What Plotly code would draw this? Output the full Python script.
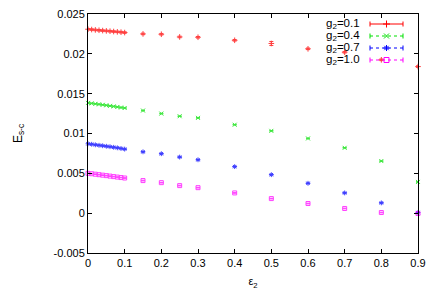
import plotly.graph_objects as go

eps = [0.0, 0.01, 0.02, 0.03, 0.04, 0.05, 0.06, 0.07, 0.08, 0.09, 0.1,
       0.15, 0.2, 0.25, 0.3, 0.4, 0.5, 0.6, 0.7, 0.8, 0.9]

e_g01 = [0.02309, 0.02305, 0.02300, 0.02296, 0.02292, 0.02288, 0.02284, 0.02280, 0.02276, 0.02272, 0.02267,
         0.02250, 0.02246, 0.02212, 0.02208, 0.02170, 0.02130, 0.02063, 0.02020, 0.01925, 0.01840]
err_g01 = [0.0001]*11 + [0.0001, 0.0001, 0.0001, 0.0001, 0.0001, 0.00025, 0.0001, 0.0001, 0.0001, 0.0001]

e_g04 = [0.01384, 0.01378, 0.01372, 0.01366, 0.01360, 0.01354, 0.01347, 0.01340, 0.01333, 0.01326, 0.01320,
         0.01288, 0.01250, 0.01217, 0.01196, 0.01110, 0.01033, 0.00938, 0.00820, 0.00654, 0.00392]
err_g04 = [0.00004]*21

e_g07 = [0.00871, 0.00865, 0.00858, 0.00852, 0.00846, 0.00840, 0.00834, 0.00827, 0.00820, 0.00812, 0.00804,
         0.00770, 0.00746, 0.00704, 0.00670, 0.00584, 0.00483, 0.00375, 0.00254, 0.00129, 0.00008]
err_g07 = [0.00004]*21

e_g10 = [0.00500, 0.00495, 0.00489, 0.00483, 0.00477, 0.00471, 0.00465, 0.00459, 0.00453, 0.00447, 0.00441,
         0.00409, 0.00383, 0.00346, 0.00320, 0.00254, 0.00183, 0.00121, 0.00059, 0.00008, -0.00004]
err_g10 = [0.00004]*21

labels = ["g<sub>2</sub>=0.1", "g<sub>2</sub>=0.4", "g<sub>2</sub>=0.7", "g<sub>2</sub>=1.0"]
colors = ["#ff0000", "#00e000", "#0000ff", "#ff00ff"]
symbols = ["cross-thin-open", "x-thin-open", "asterisk-open", "square-open"]
dashes = ["solid", "dash", "dash", "dash"]

xticks = [0, 0.1, 0.2, 0.3, 0.4, 0.5, 0.6, 0.7, 0.8, 0.9]
xticktext = ["0", "0.1", "0.2", "0.3", "0.4", "0.5", "0.6", "0.7", "0.8", "0.9"]
yticks = [-0.005, 0, 0.005, 0.01, 0.015, 0.02, 0.025]
yticktext = ["-0.005", "0", "0.005", "0.01", "0.015", "0.02", "0.025"]

series = [e_g01, e_g04, e_g07, e_g10]
errs = [err_g01, err_g04, err_g07, err_g10]

fig = go.Figure()
for ys, er, c, s in zip(series, errs, colors, symbols):
    fig.add_trace(go.Scatter(
        x=eps, y=ys, mode="markers",
        marker=dict(symbol=s, size=4, color=c, line=dict(color=c, width=1)),
        error_y=dict(type="data", array=er, color=c, thickness=1, width=2),
        showlegend=False, opacity=0.75, cliponaxis=False))

W, H = 436, 305
L, R, T, B = 88, 418, 14, 253
def px(x):
    return (x - L) / (R - L)
def py(y):
    return (B - y) / (B - T)

rows = [24, 36, 48, 60]
xs0, xs1, xm = px(370), px(403), px(386.5)
for lab, c, s, d, r in zip(labels, colors, symbols, dashes, rows):
    yy = py(r)
    fig.add_annotation(x=px(362), y=yy, xref="paper", yref="paper", text=lab,
                       showarrow=False, xanchor="right", yanchor="middle",
                       font=dict(size=11.5, color="black", family="Liberation Sans, Arial"))
    fig.add_shape(type="line", xref="paper", yref="paper", x0=xs0, x1=xs1, y0=yy, y1=yy,
                  line=dict(color=c, width=1, dash="dot" if d == "dash" else "solid"))
    for xe in (xs0, xs1):
        fig.add_shape(type="line", xref="paper", yref="paper", x0=xe, x1=xe,
                      y0=yy - 2.5 / (B - T), y1=yy + 2.5 / (B - T), line=dict(color=c, width=1))
    fig.add_trace(go.Scatter(x=[xm], y=[yy], xaxis="x2", yaxis="y2", mode="markers",
                             marker=dict(symbol=s, size=5, color=c, line=dict(color=c, width=1)),
                             showlegend=False, hoverinfo="skip"))

fig.update_layout(
    width=W, height=H,
    margin=dict(l=L, r=W - R, t=T, b=H - B),
    paper_bgcolor="white", plot_bgcolor="white",
    font=dict(family="Liberation Sans, Arial", size=11, color="black"),
    xaxis=dict(range=[0, 0.9], tickvals=xticks, ticktext=xticktext, ticks="inside", ticklen=4,
               showline=True, linecolor="black", linewidth=1, mirror="allticks", showgrid=False,
               zeroline=False, tickcolor="black", automargin=False,
               title=dict(text="ε<sub>2</sub>", standoff=9, font=dict(size=11))),
    yaxis=dict(range=[-0.0050001, 0.0250001], tickvals=yticks, ticktext=yticktext, ticks="inside", ticklen=4,
               showline=True, linecolor="black", linewidth=1, mirror="allticks", showgrid=False,
               zeroline=False, tickcolor="black", automargin=False,
               title=dict(text="E<sub>s-c</sub>", standoff=28, font=dict(size=12))),
    xaxis2=dict(range=[0, 1], overlaying="x", visible=False, anchor="y2"),
    yaxis2=dict(range=[0, 1], overlaying="y", visible=False, anchor="x2"),
)

fig.write_html("out.html", config={"displayModeBar": False},
               post_script="document.body.style.margin='0';document.body.style.overflow='hidden';")
